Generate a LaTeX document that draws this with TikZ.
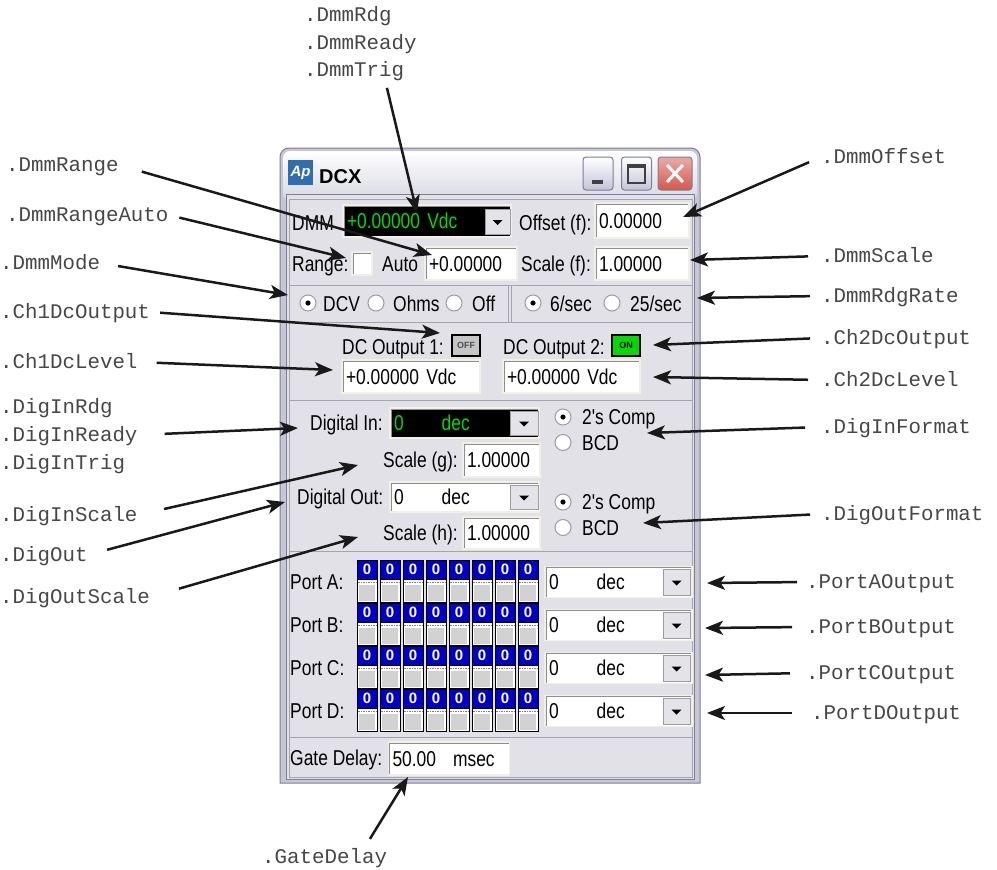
\documentclass[tikz,border=0pt]{standalone}
\usepackage{fontspec}
\usetikzlibrary{arrows.meta}
\newfontfamily\labfont{Liberation Mono}
\newfontfamily\uifont[FakeStretch=0.81]{Liberation Sans}
\newfontfamily\capfont{Liberation Sans}
\definecolor{frameblue}{HTML}{C6C6D4}
\definecolor{frameedge}{HTML}{7E7E98}
\definecolor{titlegray}{HTML}{D8D8E2}
\definecolor{clientbg}{HTML}{E2E1E7}
\definecolor{etchgray}{HTML}{A4A4AE}
\definecolor{fielddark}{HTML}{8E8E8E}
\definecolor{fieldlight}{HTML}{F2F0E4}
\definecolor{btnface}{HTML}{E4E3E8}
\definecolor{btnedge}{HTML}{9C9CA4}
\definecolor{lcdgreen}{HTML}{00DC00}
\definecolor{swblue}{HTML}{0000C8}
\definecolor{closered}{HTML}{D6574C}
\definecolor{capbtn}{HTML}{C4C4DA}
\definecolor{logoblue}{HTML}{2F6EB2}
\tikzset{
  lab/.style={font=\labfont\fontsize{20.8pt}{25pt}\selectfont, text=black!72, anchor=west, inner sep=0pt, text height=12pt, text depth=0pt},
  ui/.style={font=\uifont\fontsize{21.5pt}{26pt}\selectfont, anchor=west, inner sep=0pt, text height=15pt, text depth=0pt},
  callout/.style={draw=black!90, line width=2.5pt, -{Stealth[length=18pt,width=14pt,inset=4.5pt]}},
  field/.style={ui, anchor=center, fill=white, draw=fieldlight, line width=1.5pt, inner xsep=4pt, align=left,
    path picture={\draw[fielddark, line width=3pt] (path picture bounding box.south west) -- (path picture bounding box.north west) -- (path picture bounding box.north east);}},
  lcd/.style={field, fill=black, text=lcdgreen},
  dropbtn/.style={fill=btnface, draw=btnedge, line width=1pt, minimum width=26pt, minimum height=24pt, inner sep=0pt,
    path picture={\fill[black] ([xshift=-5pt,yshift=1.5pt]path picture bounding box.center) -- ++(10pt,0pt) -- ++(-5pt,-5pt) -- cycle;}},
  radio/.style={circle, draw=btnedge, fill=white, line width=1pt, minimum size=16pt, inner sep=0pt},
  radioon/.style={radio, path picture={\fill[black] (path picture bounding box.center) circle (2.6pt);}},
  etch/.style={draw=etchgray, line width=1pt},
  digit/.style={text=white, font=\capfont\bfseries\fontsize{15pt}{15pt}\selectfont, inner sep=0pt},
  capbutton/.style={rounded corners=3pt, top color=white, bottom color=capbtn, draw=frameedge, line width=1pt, minimum width=30pt, minimum height=33pt, inner sep=0pt},
  lamp/.style={draw=black, line width=1.5pt, minimum width=28pt, minimum height=21pt, inner sep=0pt, font=\capfont\bfseries\fontsize{9pt}{9pt}\selectfont},
}
\begin{document}
\begin{tikzpicture}[x=1pt, y=-1pt]
\useasboundingbox (0,0) rectangle (997,870);
% window frame and title bar
\draw[fill=frameblue, draw=frameedge, line width=1pt] (280,783) -- (280,157) arc[start angle=180, end angle=90, radius=9pt] -- (691,148) arc[start angle=90, end angle=0, radius=9pt] -- (700,783) -- cycle;
\shade[top color=white, bottom color=titlegray, rounded corners=7pt] (283,151) rectangle (697,200);
\draw[fill=clientbg, draw=frameedge] (286,194) rectangle (694,779);
\node[fill=logoblue, text=white, font=\capfont\bfseries\itshape\fontsize{15pt}{15pt}\selectfont, minimum size=25pt, inner sep=0pt] (logo) at (300.5,172.5) {Ap};
\node[anchor=west, inner sep=0pt, font=\capfont\bfseries\fontsize{20pt}{20pt}\selectfont, text height=14pt, text depth=0pt] (title) at (319,176) {DCX};
\node[capbutton] (minbtn) at (598,173.5) {};
\fill[black!75] (592,180) rectangle (603,184);
\node[capbutton] (maxbtn) at (636.5,173.5) {};
\draw[black!75, line width=1.2pt] (628,165) rectangle (645,183);
\draw[black!75, line width=3pt] (628,166) -- (645,166);
\node[capbutton, minimum width=34pt, top color=closered!50!white, bottom color=closered] (closebtn) at (675,173.5) {};
\draw[white, line width=3pt] (667,165) -- (683,182) (683,165) -- (667,182);
% group frames
\draw[etch] (289,199) rectangle (692,285);
\draw[etch] (289,285) rectangle (508,322);
\draw[etch] (511,285) rectangle (692,322);
\draw[etch] (289,322) rectangle (692,400);
\draw[etch] (289,400) rectangle (692,551);
\draw[etch] (289,551) rectangle (692,737);
\draw[etch] (289,737) rectangle (692,777);
% DMM
\node[ui] (dmmlbl) at (292,223) {DMM};
\node[lcd, text width=160pt, minimum height=32pt] (dmmbox) at (427,221) {+0.00000 Vdc};
\node[dropbtn, minimum width=25pt, minimum height=25pt] (dmmbtn) at (497.5,221.5) {};
\node[ui] (offsetlbl) at (519,223) {Offset (f):};
\node[field, text width=86pt, minimum height=35pt] (offsetbox) at (642,220.5) {0.00000};
\node[ui] (rangelbl) at (292,264) {Range:};
\node[field, minimum width=20pt, minimum height=23pt] (autochk) at (362,263.5) {};
\node[ui] (autolbl) at (382,264) {Auto};
\node[field, text width=84pt, minimum height=33pt] (rangebox) at (471,263.5) {+0.00000};
\node[ui] (scalelbl) at (521,264) {Scale (f):};
\node[field, text width=86pt, minimum height=33pt] (scalebox) at (642,263.5) {1.00000};
\foreach \n/\s/\x in {dcv/radioon/308, ohms/radio/376, off/radio/454, six/radioon/533, tw/radio/612}{
  \node[\s] (r\n) at (\x,303) {};
}
\node[ui] (tdcv) at (323,304) {DCV};
\node[ui] (tohms) at (393,304) {Ohms};
\node[ui] (toff) at (472,304) {Off};
\node[ui] (tsix) at (550,304) {6/sec};
\node[ui] (ttw) at (630,304) {25/sec};
% DC outputs
\node[ui] (dc1lbl) at (342,347) {DC Output 1:};
\node[lamp, fill=gray!45, text=black!70] (dc1lamp) at (466,345.5) {OFF};
\node[ui] (dc2lbl) at (503,347) {DC Output 2:};
\node[lamp, fill=lcdgreen] (dc2lamp) at (626,345.5) {ON};
\node[field, text width=130pt, minimum height=33pt] (ch1box) at (411,376.5) {+0.00000 Vdc};
\node[field, text width=129pt, minimum height=33pt] (ch2box) at (571.5,376.5) {+0.00000 Vdc};
% digital in/out
\node[ui] (diginlbl) at (310,423) {Digital In:};
\node[lcd, text width=141pt, minimum height=30pt] (diginbox) at (464.5,423) {0\hspace{38pt}dec};
\node[dropbtn, minimum width=28pt] (diginbtn) at (524,423) {};
\node[ui] (scaleglbl) at (383,460) {Scale (g):};
\node[field, text width=69pt, minimum height=34pt] (scaleg) at (501.5,460) {1.00000};
\node[ui] (digoutlbl) at (297,497) {Digital Out:};
\node[field, text width=141pt, minimum height=30pt] (digoutbox) at (464.5,497) {0\hspace{38pt}dec};
\node[dropbtn, minimum width=28pt] (digoutbtn) at (524,497) {};
\node[ui] (scalehlbl) at (383,533) {Scale (h):};
\node[field, text width=69pt, minimum height=32pt] (scaleh) at (501.5,533) {1.00000};
\foreach \n/\y in {in/417, out/502}{
  \node[radioon] (r\n comp) at (563,\y) {};
  \node[ui] (t\n comp) at (582,\y) {2's Comp};
  \node[radio] (r\n bcd) at (563,\y+25.5) {};
  \node[ui] (t\n bcd) at (582,\y+25.5) {BCD};
}
% ports
\foreach \p/\y in {A/582, B/625, C/668, D/711}{
  \node[ui] (port\p) at (290,\y) {Port \p:};
  \foreach \i in {0,...,7}{
    \fill[white] (357+23*\i,\y-22) rectangle ++(20,42);
    \fill[swblue] (357+23*\i,\y-22) rectangle ++(20,19);
    \fill[gray!35] (359+23*\i,\y+3) rectangle ++(16,16);
    \draw[gray, dash pattern=on 1.5pt off 1pt] (358+23*\i,\y) -- ++(18,0);
    \draw[line width=1pt] (357+23*\i,\y-22) rectangle ++(20,42) (357+23*\i,\y-3) -- ++(20,0);
    \node[digit] (bit\p\i) at (367+23*\i,\y-12.5) {0};
  }
  \node[field, text width=139pt, minimum height=31pt] (combo\p) at (618.5,\y) {0\hspace{38pt}dec};
  \node[dropbtn, minimum width=27pt, minimum height=26pt] (btn\p) at (676.5,\y) {};
}
\node[ui] (gatelbl) at (290,758) {Gate Delay:};
\node[field, text width=113pt, minimum height=33pt] (gatebox) at (449,758.5) {50.00\hspace{17pt}msec};
% property labels
\foreach \n/\x/\y in {DmmRdg/304/15, DmmReady/304/43, DmmTrig/304/70,
  DmmRange/6/165, DmmRangeAuto/6/215, DmmMode/0/263, Ch1DcOutput/0/312, Ch1DcLevel/0/362,
  DigInRdg/0/407, DigInReady/0/435, DigInTrig/0/463, DigInScale/0/515, DigOut/0/555, DigOutScale/0/597,
  DmmOffset/821/157, DmmScale/821/256, DmmRdgRate/821/296, Ch2DcOutput/821/338, Ch2DcLevel/821/380,
  DigInFormat/821/427, DigOutFormat/821/514, PortAOutput/806/582, PortBOutput/806/627,
  PortCOutput/806/673, PortDOutput/811/713, GateDelay/262/857}{
  \node[lab] (l\n) at (\x,\y) {.\n};
}
% arrow targets
\foreach \n/\x/\y in {DmmTrig/417/213, DmmRange/432/255, DmmRangeAuto/346/258, DmmMode/288/295,
  Ch1DcOutput/440/333, Ch1DcLevel/333/370, DigInReady/298/428, DigInScale/358/465, DigOut/285/502,
  DigOutScale/358/537, DmmOffset/683/217, DmmScale/690/260, DmmRdgRate/697/298, Ch2DcOutput/653/345,
  Ch2DcLevel/653/377, DigInFormat/647/433, DigOutFormat/643/523, PortAOutput/707/583,
  PortBOutput/705/628, PortCOutput/705/675, PortDOutput/707/713, GateDelay/408/777}{
  \coordinate (t\n) at (\x,\y);
}
\foreach \n/\s in {DmmRange/24, DmmRangeAuto/11, DmmMode/18, Ch1DcOutput/10, Ch1DcLevel/19,
  DigInReady/27, DigInScale/27, DigOut/20, DigOutScale/30}{
  \draw[callout, shorten <=\s pt] (l\n.east) -- (t\n);
}
\foreach \n/\s in {DmmOffset/13, DmmScale/13, DmmRdgRate/11, Ch2DcOutput/11, Ch2DcLevel/13,
  DigInFormat/16, DigOutFormat/11, PortAOutput/9, PortBOutput/14, PortCOutput/16, PortDOutput/19}{
  \draw[callout, shorten <=\s pt] (l\n.west) -- (t\n);
}
\draw[callout, shorten <=12pt] ([xshift=30pt]lDmmTrig.south) -- (tDmmTrig);
\draw[callout, shorten <=14pt] ([xshift=38pt]lGateDelay.north) -- (tGateDelay);
\end{tikzpicture}
\end{document}
